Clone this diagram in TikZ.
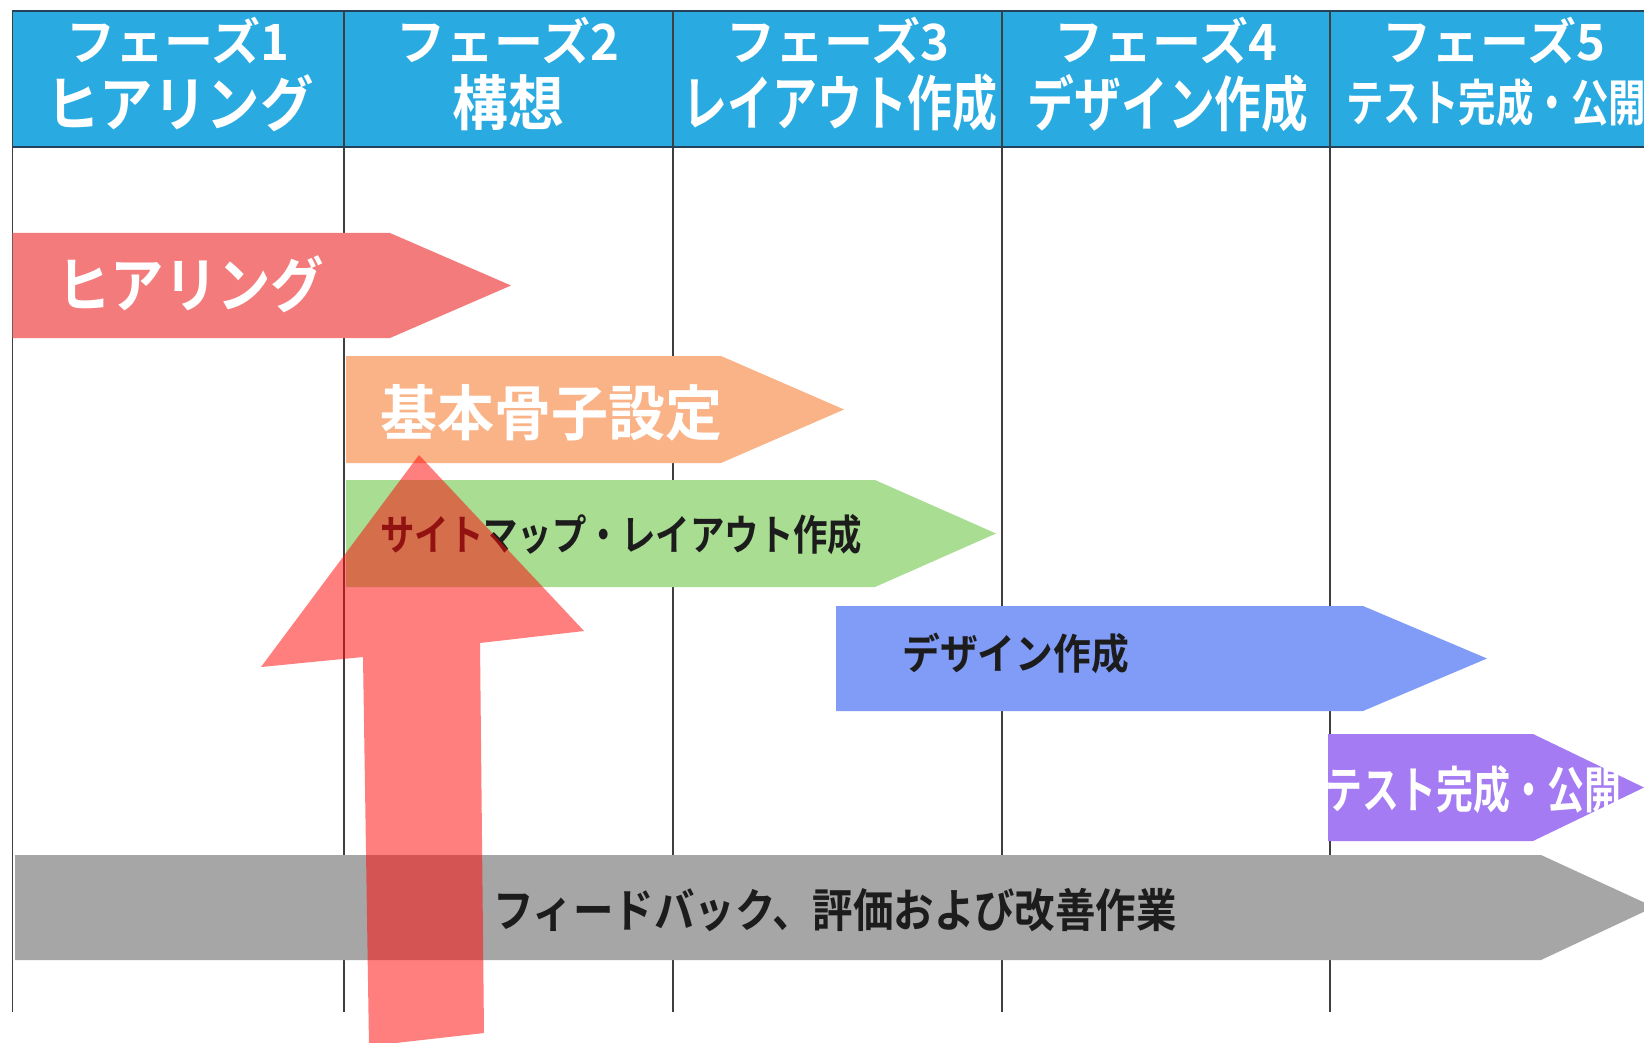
\documentclass[tikz,border=0pt]{standalone}
\usepackage{fontspec}
\newfontfamily\jpb{Noto Sans CJK JP Bold}
\definecolor{hdrblue}{HTML}{29ABE2}
\definecolor{hearC}{HTML}{F37B7B}
\definecolor{orangeC}{HTML}{F9B387}
\definecolor{greenC}{HTML}{A8DD92}
\definecolor{blueC}{HTML}{819CF6}
\definecolor{purpleC}{HTML}{A47BF3}
\definecolor{grayC}{HTML}{A6A6A6}
\definecolor{redC}{HTML}{FF0A0A}
\definecolor{gridC}{HTML}{3F3F3F}
\definecolor{hdrline}{HTML}{24435A}
\definecolor{darktext}{HTML}{1C1C1C}
\newcommand{\sx}[2]{\scalebox{#1}[1]{#2}}
\tikzset{
  hdrone/.style={inner sep=0pt, text=white, font={\jpb\fontsize{50}{55}\selectfont}},
  hdrtwo/.style={inner sep=0pt, text=white, font={\jpb\fontsize{60}{66}\selectfont}},
  hdrtwosmall/.style={inner sep=0pt, text=white, font={\jpb\fontsize{50}{55}\selectfont}},
  biglbl/.style={inner sep=0pt, anchor=west, text=white, font={\jpb\fontsize{60}{66}\selectfont}},
  midlbl/.style={inner sep=0pt, anchor=west, font={\jpb\fontsize{50}{55}\selectfont}},
  smalllbl/.style={inner sep=0pt, anchor=west, text=darktext, font={\jpb\fontsize{42}{46}\selectfont}},
  gridline/.style={draw=gridC, line width=1.6pt},
  hdrborder/.style={draw=hdrline, line width=2pt},
}
\begin{document}
\begin{tikzpicture}[x=1pt,y=-1pt]
\useasboundingbox (0,0) rectangle (1644,1043);
\fill[white] (0,0) rectangle (1644,1043);

% header band
\fill[hdrblue] (12,11) rectangle (1650,147);

% grid lines
\foreach \gx in {12.6,344,673,1002,1330}{
  \draw[gridline] (\gx,11) -- (\gx,1012);
}
\draw[hdrborder] (12,11) -- (1644,11);
\draw[hdrborder] (12,147) -- (1644,147);

% header texts
\node[hdrone] (h1a) at (178,41) {\sx{0.98}{フェーズ1}};
\node[hdrone] (h2a) at (508,41) {\sx{0.98}{フェーズ2}};
\node[hdrone] (h3a) at (838,41) {\sx{0.98}{フェーズ3}};
\node[hdrone] (h4a) at (1166,41) {\sx{0.98}{フェーズ4}};
\node[hdrone] (h5a) at (1494,41) {\sx{0.98}{フェーズ5}};
\node[hdrtwo] (h1b) at (180,103) {\sx{0.89}{ヒアリング}};
\node[hdrtwo] (h2b) at (508,103) {\sx{0.93}{構想}};
\node[hdrtwo] (h3b) at (840,103) {\sx{0.75}{レイアウト作成}};
\node[hdrtwo] (h4b) at (1168,103) {\sx{0.78}{デザイン作成}};
\node[hdrtwosmall] (h5b) at (1496,103) {\sx{0.75}{テスト完成・公開}};

% task arrows
\fill[hearC] (12.6,233) -- (390,233) -- (511,285.5) -- (390,338) -- (12.6,338) -- cycle;
\fill[orangeC] (346,356) -- (721,356) -- (844,409.5) -- (721,463) -- (346,463) -- cycle;
\fill[greenC] (346,480) -- (875,480) -- (996,533.5) -- (875,587) -- (346,587) -- cycle;
\fill[blueC] (836,606) -- (1363,606) -- (1487,658.5) -- (1363,711) -- (836,711) -- cycle;
\fill[purpleC] (1328,734) -- (1533,734) -- (1644,787.5) -- (1533,841) -- (1328,841) -- cycle;
\fill[grayC] (15,855) -- (1541,855) -- (1654,907) -- (1541,960) -- (15,960) -- cycle;

% task labels
\node[biglbl] (t1) at (57,284) {\sx{0.89}{ヒアリング}};
\node[biglbl] (t2) at (380,413) {\sx{0.95}{基本骨子設定}};
\node[smalllbl] (t3) at (380,535) {\sx{0.82}{サイトマップ・レイアウト作成}};
\node[smalllbl] (t4) at (902,653) {\sx{0.9}{デザイン作成}};
\node[midlbl, text=white] (t5) at (1325,790) {\sx{0.74}{テスト完成・公開}};
\node[smalllbl, font={\jpb\fontsize{46}{50}\selectfont}] (t6) at (493,910) {\sx{0.88}{フィードバック、評価および改善作業}};

% big red upward arrow overlay
\fill[redC, fill opacity=0.52] (419,455) -- (584,631) -- (480,643) -- (484,1033) -- (369,1046) -- (363,657) -- (261,667) -- cycle;
\end{tikzpicture}
\end{document}
